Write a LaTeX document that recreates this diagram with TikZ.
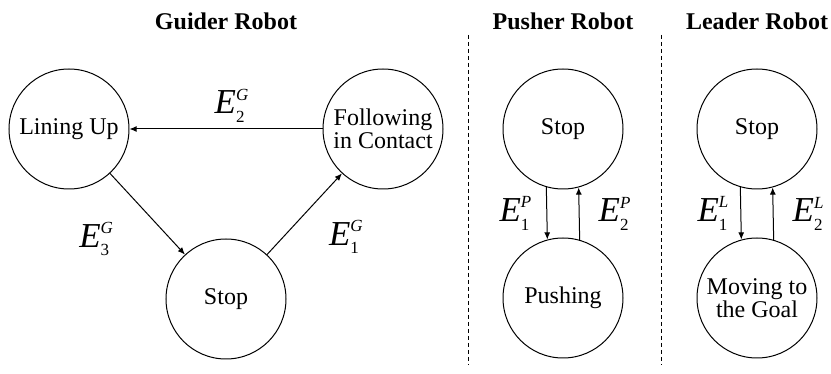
\documentclass[tikz,border=0pt]{standalone}
\usepackage{amsmath}
\usepackage{fontspec}
\setmainfont{Liberation Serif}
\usetikzlibrary{positioning}
\usetikzlibrary{arrows.meta}

\newcommand{\evt}[2]{$\textit{E}^{\mbox{\fontsize{8.5}{9}\selectfont\textit{#2}}}_{\mbox{\fontsize{8.5}{9}\selectfont #1}}$}

\begin{document}
\begin{tikzpicture}[on grid,
  state/.style={circle, draw, line width=0.5pt, minimum size=60pt, inner sep=0pt, align=center, font=\fontsize{12}{11.5}\selectfont},
  title/.style={font=\fontsize{12}{14}\selectfont\bfseries},
  lbl/.style={inner sep=0pt, font=\fontsize{17.5}{20}\selectfont},
  arr/.style={-{Latex[length=3.6pt,width=3pt]}, line width=0.5pt}]
  \useasboundingbox (-34.5pt,-122.5pt) rectangle (381pt,64.5pt);
  % guider robot %
  \node[state] (lu) {Lining Up};
  \node[state, right=157pt of lu] (fc) {Following\\in Contact};
  \node[state, below right=85pt and 78.5pt of lu] (gs) {Stop};
  % pusher robot %
  \node[state, right=90pt of fc] (ps) {Stop};
  \node[state, below=84.5pt of ps] (pu) {Pushing};
  % leader robot %
  \node[state, right=97pt of ps] (ls) {Stop};
  \node[state, below=84.5pt of ls] (mg) {Moving to\\the Goal};
  % titles %
  \node[title, above=139pt of gs] (gt) {Guider Robot};
  \node[title, above=54pt of ps] (pt) {Pusher Robot};
  \node[title, above=54pt of ls] (lt) {Leader Robot};
  % separators %
  \coordinate[above left=47pt and 47.5pt of ps] (d1a);
  \coordinate[below left=118pt and 47.5pt of ps] (d1b);
  \coordinate[above left=47pt and 48pt of ls] (d2a);
  \coordinate[below left=118pt and 48pt of ls] (d2b);
  \draw[dash pattern=on 2pt off 1.5pt, line width=0.4pt] (d1a) -- (d1b);
  \draw[dash pattern=on 2pt off 1.5pt, line width=0.4pt] (d2a) -- (d2b);
  % edges %
  \draw[arr] (fc) -- node[lbl, above=3pt, xshift=3pt] {\evt{2}{G}} (lu);
  \draw[arr] (lu) -- node[lbl, below left=4pt and 16.5pt] {\evt{3}{G}} (gs);
  \draw[arr] (gs) -- node[lbl, below right=3pt and 12pt] {\evt{1}{G}} (fc);
  \draw[arr] (ps.254.5) -- node[lbl, left=7pt] {\evt{1}{P}} (pu.105.5);
  \draw[arr] (pu.74.5) -- node[lbl, right=9.5pt] {\evt{2}{P}} (ps.285.5);
  \draw[arr] (ls.254.5) -- node[lbl, left=5.5pt] {\evt{1}{L}} (mg.105.5);
  \draw[arr] (mg.74.5) -- node[lbl, right=9.5pt] {\evt{2}{L}} (ls.285.5);
\end{tikzpicture}
\end{document}
